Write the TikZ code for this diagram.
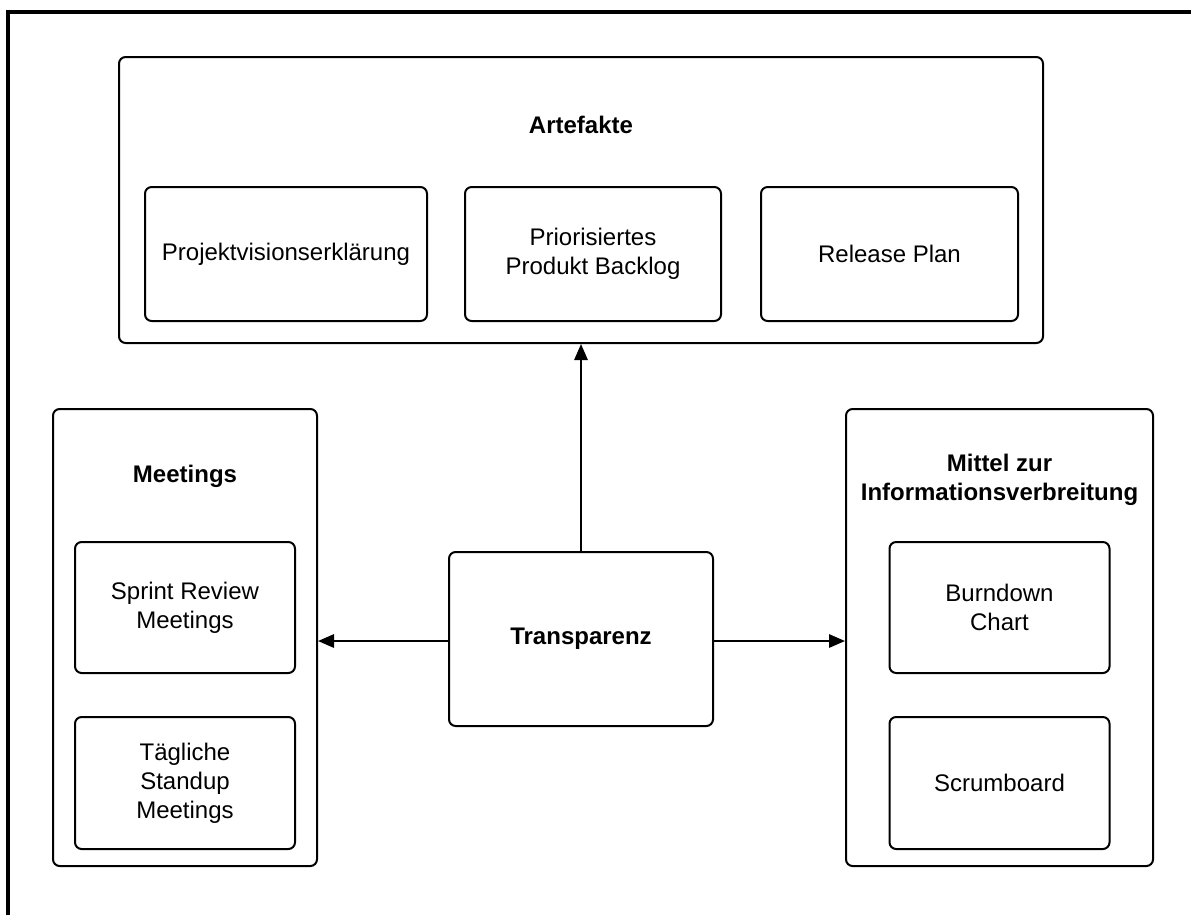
\documentclass[tikz,border=0pt]{standalone}
\usepackage{fontspec}
\setmainfont{Liberation Sans}
\usetikzlibrary{arrows.meta}
\begin{document}
\begin{tikzpicture}[x=0.75pt,y=-0.75pt,
  box/.style={draw, line width=1.5pt, rounded corners=5pt, rectangle, inner sep=0pt,
    align=center, font=\fontsize{18}{21.75}\selectfont},
  title/.style={align=center, font=\fontsize{18}{21.75}\selectfont\bfseries},
  link/.style={line width=1.5pt, -{Triangle[length=12pt,width=10pt]}}]
\useasboundingbox (0,0) rectangle (1191,915);
% frame edges
\draw[line width=3pt] (8,915) -- (8,12) -- (1191,12);

% Artefakte group
\node[box, minimum width=693pt, minimum height=214.5pt] (art) at (581,200) {};
\node[title] (artT) at (581,125) {Artefakte};
\node[box, minimum width=211.5pt, minimum height=100.5pt] (vision) at (286,254) {Projektvisionserklärung};
\node[box, minimum width=192pt, minimum height=100.5pt] (backlog) at (593,254) {Priorisiertes\\Produkt Backlog};
\node[box, minimum width=192.75pt, minimum height=100.5pt] (release) at (889.5,254) {Release Plan};

% Meetings group
\node[box, minimum width=198pt, minimum height=342.75pt] (meet) at (185,637.5) {};
\node[title] (meetT) at (185,476) {Meetings};
\node[box, minimum width=165pt, minimum height=98.25pt] (sprint) at (185,607.5) {Sprint Review\\Meetings};
\node[box, minimum width=165pt, minimum height=99pt] (daily) at (185,783) {Tägliche\\Standup\\Meetings};

% Information radiators
\node[box, minimum width=230.25pt, minimum height=342.75pt] (info) at (999.5,637.5) {};
\node[title] (infoT) at (999.5,480) {Mittel zur\\Informationsverbreitung};
\node[box, minimum width=165pt, minimum height=98.25pt] (burn) at (999.5,607.5) {Burndown\\Chart};
\node[box, minimum width=165pt, minimum height=99pt] (scrum) at (999.5,783) {Scrumboard};

% Centre
\node[box, minimum width=198pt, minimum height=130.5pt, font=\fontsize{18}{21.75}\selectfont\bfseries] (trans) at (581,639) {Transparenz};

% connectors
\draw[link] (trans.north) -- (art.south);
\draw[link] (trans.west |- 0,641) -- (meet.east |- 0,641);
\draw[link] (trans.east |- 0,641) -- (info.west |- 0,641);
\end{tikzpicture}
\end{document}
